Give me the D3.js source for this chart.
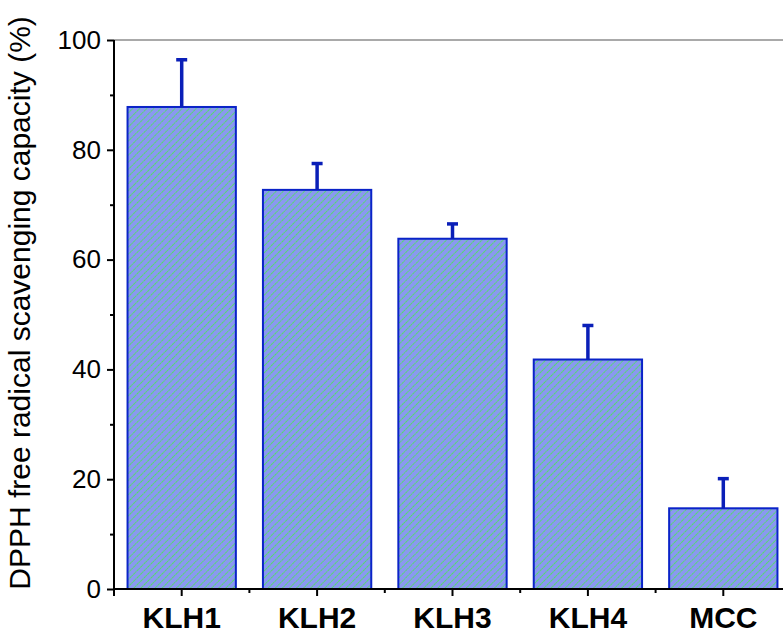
<!DOCTYPE html>
<html>
<head>
<meta charset="utf-8">
<script src="https://cdn.jsdelivr.net/npm/d3@7"></script>
<style>
  html, body { margin: 0; padding: 0; background: #fff; }
  svg { display: block; font-family: "Liberation Sans", Arial, sans-serif; }
</style>
</head>
<body>
<svg id="chart" width="783" height="634"></svg>
<script>
// Samples and their DPPH scavenging results
const categories = ["KLH1", "KLH2", "KLH3", "KLH4", "MCC"];
const values = [87.8, 72.7, 63.8, 41.8, 14.7];
const errors = [8.6, 4.8, 2.7, 6.2, 5.4];
const yTicks = [0, 20, 40, 60, 80, 100];
const yMinorTicks = [10, 30, 50, 70, 90];
const yTitle = "DPPH free radical scavenging capacity (%)";

const svg = d3.select("#chart");
const mLeft = 114, mRight = 791, mTop = 40, mBottom = 589;

const x = d3.scaleBand().domain(categories).range([mLeft, mRight]).paddingInner(0.2).paddingOuter(0.1);
const y = d3.scaleLinear().domain([0, 100]).range([mBottom, mTop]);

// Hatch fill: blue-violet base with thin green diagonal dashes
const hs = 5;
const defs = svg.append("defs");
const pat = defs.append("pattern")
  .attr("id", "hatch")
  .attr("patternUnits", "userSpaceOnUse")
  .attr("width", hs).attr("height", hs)
  .attr("patternTransform", "rotate(45)");
pat.append("rect").attr("width", hs).attr("height", hs).attr("fill", "#8a98f0");
pat.append("line")
  .attr("x1", 0.5).attr("y1", 0).attr("x2", 0.5).attr("y2", hs)
  .attr("stroke", "#44f044").attr("stroke-width", 0.8)
  .attr("stroke-dasharray", "2,0.6");

// Top frame line
svg.append("line")
  .attr("x1", mLeft).attr("x2", 783).attr("y1", mTop).attr("y2", mTop)
  .attr("stroke", "#555").attr("stroke-width", 1);

// Bars
const bw = x.bandwidth();
svg.append("g").selectAll("rect").data(categories).join("rect")
  .attr("x", d => x(d))
  .attr("y", (d, i) => y(values[i]))
  .attr("width", bw)
  .attr("height", (d, i) => y(0) - y(values[i]))
  .attr("fill", "url(#hatch)")
  .attr("stroke", "#0a23c8").attr("stroke-width", 2);

// Upper error bars
const eg = svg.append("g").attr("stroke", "#0a1fb8");
categories.forEach((c, i) => {
  const cx = x(c) + bw / 2;
  eg.append("line").attr("x1", cx).attr("x2", cx)
    .attr("y1", y(values[i])).attr("y2", y(values[i] + errors[i]))
    .attr("stroke-width", 3.5);
  eg.append("line").attr("x1", cx - 5.5).attr("x2", cx + 5.5)
    .attr("y1", y(values[i] + errors[i])).attr("y2", y(values[i] + errors[i]))
    .attr("stroke-width", 3.5);
});

// Y axis
const yAxis = svg.append("g").attr("transform", `translate(${mLeft},0)`)
  .call(d3.axisLeft(y).tickValues(yTicks).tickSize(7).tickPadding(6).tickFormat(d3.format("d")));
yAxis.attr("font-size", 26).attr("font-family", "Liberation Sans, Arial, sans-serif");
yAxis.select(".domain").attr("stroke", "#000").attr("stroke-width", 2).attr("d", `M0,${mBottom + 7}V${mTop}`);
yAxis.selectAll(".tick line").attr("stroke-width", 2);
yAxis.selectAll(".tick text").attr("fill", "#000");
svg.append("g").attr("transform", `translate(${mLeft},0)`)
  .call(d3.axisLeft(y).tickValues(yMinorTicks).tickSize(4).tickFormat(""))
  .call(g => g.select(".domain").remove())
  .selectAll(".tick line").attr("stroke-width", 2);

// X axis
const xAxis = svg.append("g").attr("transform", `translate(0,${mBottom})`)
  .call(d3.axisBottom(x).tickSize(7).tickPadding(11));
xAxis.attr("font-size", 30).attr("font-weight", "bold").attr("font-family", "Liberation Sans, Arial, sans-serif");
xAxis.select(".domain").attr("stroke", "#000").attr("stroke-width", 2).attr("d", `M${mLeft},0H${mRight}`);
xAxis.selectAll(".tick line").attr("stroke-width", 2);
xAxis.selectAll(".tick text").attr("fill", "#000");
// Minor x ticks between categories
const step = x.step();
const minorX = categories.slice(1).map(c => x(c) + bw / 2 - step / 2);
svg.append("g").selectAll("line").data(minorX).join("line")
  .attr("x1", d => d).attr("x2", d => d)
  .attr("y1", mBottom).attr("y2", mBottom + 4)
  .attr("stroke", "#000").attr("stroke-width", 2);

// Y title
svg.append("text")
  .attr("transform", `translate(30,303) rotate(-90)`)
  .attr("text-anchor", "middle")
  .attr("font-size", 30)
  .attr("fill", "#000")
  .text(yTitle);
</script>
</body>
</html>
